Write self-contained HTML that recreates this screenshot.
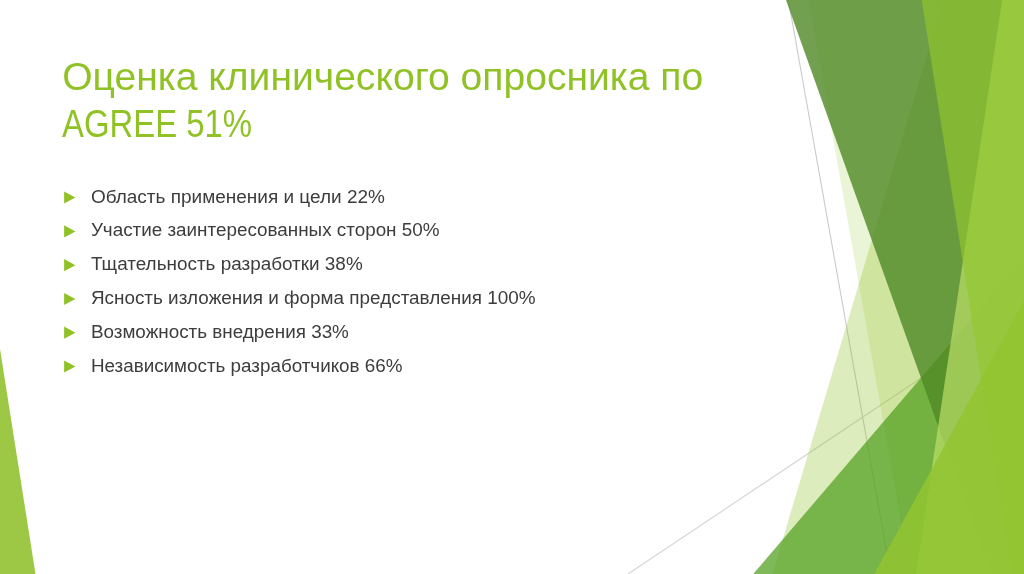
<!DOCTYPE html>
<html><head><meta charset="utf-8">
<style>
html,body{margin:0;padding:0;background:#fff;width:1024px;height:574px;overflow:hidden}
svg{display:block}
text{font-family:"Liberation Sans",sans-serif}
</style></head>
<body>
<svg width="1024" height="574" viewBox="0 0 1024 574">
<rect width="1024" height="574" fill="#fff"/>
<!-- gray lines -->
<line x1="788.4" y1="0" x2="890.6" y2="574" stroke="#cacacf" stroke-width="1.1"/>
<line x1="1024" y1="309.3" x2="628" y2="574" stroke="#d6d6d6" stroke-width="1.2"/>
<!-- R26 very pale -->
<polygon points="808.6,0 1024,0 1024,574 910.2,574" fill="#90C226" fill-opacity="0.19"/>
<!-- E pale -->
<polygon points="943.4,0 1024,0 1024,574 772.4,574" fill="#90C226" fill-opacity="0.31"/>
<!-- T9 -->
<polygon points="1024,257.6 753.2,574 1024,574" fill="#54A021" fill-opacity="0.74"/>
<!-- D dark -->
<polygon points="786,0 1024,0 1024,574 991,574" fill="#4f8824" fill-opacity="0.8"/>
<!-- B -->
<polygon points="1002.1,0 1024,0 1024,574 916,574" fill="#b5db65" fill-opacity="0.75"/>
<!-- A -->
<polygon points="921.7,0 1024,0 1024,574 1011.8,574" fill="#93c62e" fill-opacity="0.65"/>
<!-- T10 -->
<polygon points="1024,300.8 874.2,574 1024,574" fill="#92c430" fill-opacity="0.85"/>
<!-- left triangle -->
<polygon points="0,349 0,574 35.5,574" fill="#9dc846"/>

<!-- title -->
<g fill="#90c226" font-size="39.2" style="will-change:transform">
<text x="62.2" y="89.8" textLength="641" lengthAdjust="spacingAndGlyphs">Оценка клинического опросника по</text>
<text x="62" y="136.6" textLength="190" lengthAdjust="spacingAndGlyphs">AGREE 51%</text>
</g>
<!-- bullets -->
<g fill="#90c226">
<polygon points="64.1,191.5 64.1,203.6 75.4,197.6"/>
<polygon points="64.1,225.3 64.1,237.4 75.4,231.4"/>
<polygon points="64.1,259.1 64.1,271.2 75.4,265.2"/>
<polygon points="64.1,292.9 64.1,305.0 75.4,299.0"/>
<polygon points="64.1,326.6 64.1,338.7 75.4,332.7"/>
<polygon points="64.1,360.4 64.1,372.5 75.4,366.5"/>
</g>
<g fill="#3d3d3d" font-size="18.7" style="will-change:transform">
<text x="90.9" y="202.6" textLength="294.0" lengthAdjust="spacingAndGlyphs">Область применения и цели 22%</text>
<text x="90.9" y="236.4" textLength="348.6" lengthAdjust="spacingAndGlyphs">Участие заинтересованных сторон 50%</text>
<text x="90.9" y="270.2" textLength="271.8" lengthAdjust="spacingAndGlyphs">Тщательность разработки 38%</text>
<text x="90.9" y="303.9" textLength="444.6" lengthAdjust="spacingAndGlyphs">Ясность изложения и форма представления 100%</text>
<text x="90.9" y="337.7" textLength="258.0" lengthAdjust="spacingAndGlyphs">Возможность внедрения 33%</text>
<text x="90.9" y="371.5" textLength="311.6" lengthAdjust="spacingAndGlyphs">Независимость разработчиков 66%</text>
</g>
</svg>
</body></html>
